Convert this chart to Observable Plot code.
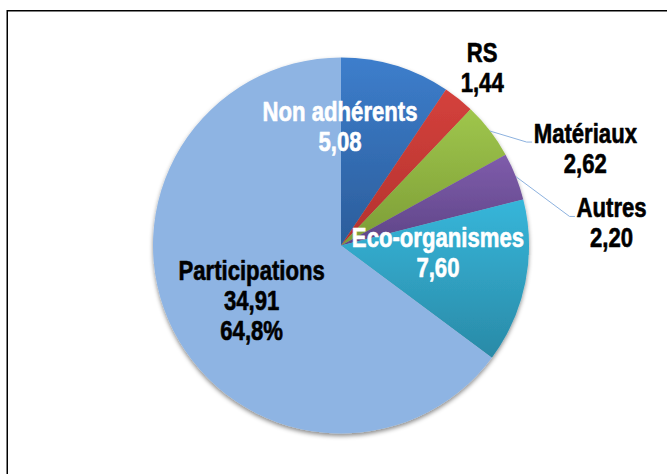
<!DOCTYPE html>
<html><head><meta charset="utf-8">
<script src="https://cdn.jsdelivr.net/npm/d3@7"></script>
<script src="https://cdn.jsdelivr.net/npm/@observablehq/plot@0.6"></script>
<style>
html,body{margin:0;padding:0;background:#fff;}
#chart{position:relative;width:667px;height:474px;overflow:hidden;}
#chart svg{display:block;}
</style></head><body><div id="chart"></div>
<script>
// ---- data ----
const categories = ["Non adhérents", "RS", "Matériaux", "Autres", "Eco-organismes", "Participations"];
const values = [5.08, 1.44, 2.62, 2.20, 7.60, 34.91];
const valueLabels = ["5,08", "1,44", "2,62", "2,20", "7,60", "34,91"];
const percentLabels = ["", "", "", "", "", "64,8%"];

// ---- styles / layout ----
const colorTop = ["#3d7ecc", "#d4413c", "#9fc64c", "#7f5cab", "#36b6da", "#8eb4e3"];
const colorBottom = ["#2b5d9b", "#b3322e", "#7c9c36", "#5e4587", "#2a8aa7", "#8eb4e3"];
const labelWhite = [true, false, false, false, true, false];
const labelRadius = [0.636, 1.21, 1.397, 1.442, 0.514, 0.56];
const labelAngle = [-0.7, 38.2, 68.2, 85.1, 93.6, 238.6];
const hasLeader = [false, false, true, true, false, false];

const W = 667, H = 474, CX = 341, CY = 245.5, R = 188;
const FONT = "'Liberation Sans', Arial, sans-serif";
const FS = 27;
const SQUEEZE = 0.82; // narrow (condensed) look

const arcs = d3.pie().sort(null).value(d => d).startAngle(0)(values);

const ctx = document.createElement("canvas").getContext("2d");
ctx.font = `bold ${FS}px ${FONT}`;

const rad = a => a * Math.PI / 180;
const labels = categories.map((c, i) => {
  const a = rad(labelAngle[i]);
  const lines = [c, valueLabels[i]];
  if (percentLabels[i]) lines.push(percentLabels[i]);
  return {
    i, text: lines.join("\n"),
    x: labelRadius[i] * Math.sin(a),
    y: labelRadius[i] * Math.cos(a),
    w: ctx.measureText(c).width * SQUEEZE,
    white: labelWhite[i]
  };
});

const leaders = [];
labels.forEach((L, i) => {
  if (!hasLeader[i]) return;
  const mid = (arcs[i].startAngle + arcs[i].endAngle) / 2;
  const ly = L.y + 6.4 / R;
  const left = L.x - (L.w / 2) / R;
  leaders.push({k: i, x: Math.sin(mid), y: Math.cos(mid)});
  leaders.push({k: i, x: left - 7 / R, y: ly});
  leaders.push({k: i, x: left - 2 / R, y: ly});
});

function pieMark(index, scales, vals, dims) {
  const g = d3.create("svg:g");
  const cx = scales.x(0), cy = scales.y(0), r = scales.x(1) - scales.x(0);
  const defs = g.append("defs");
  arcs.forEach((a, i) => {
    const gr = defs.append("linearGradient").attr("id", "grad" + i)
      .attr("x1", 0).attr("y1", 0).attr("x2", 0).attr("y2", 1);
    gr.append("stop").attr("offset", "0%").attr("stop-color", colorTop[i]);
    gr.append("stop").attr("offset", "100%").attr("stop-color", colorBottom[i]);
  });
  const f = defs.append("filter").attr("id", "pieShadow")
    .attr("x", "-10%").attr("y", "-10%").attr("width", "120%").attr("height", "125%");
  f.append("feDropShadow").attr("dx", 0).attr("dy", 2.5).attr("stdDeviation", 2.2)
    .attr("flood-color", "#000").attr("flood-opacity", 0.45);
  // frame
  g.append("path").attr("d", `M7.25,${dims.height + 5}V10.75H${dims.width + 5}`)
    .attr("fill", "none").attr("stroke", "#000").attr("stroke-width", 1.5);
  const arc = d3.arc().innerRadius(0).outerRadius(r);
  g.append("g").attr("transform", `translate(${cx},${cy})`).attr("filter", "url(#pieShadow)")
    .selectAll("path").data(arcs).join("path")
    .attr("d", arc).attr("fill", (d, i) => `url(#grad${i})`);
  return g.node();
}

const textOpts = {x: "x", y: "y", text: "text", fontSize: FS, fontWeight: "bold", fontFamily: FONT,
  lineHeight: 1.11, lineAnchor: "middle", textAnchor: "middle", strokeWidth: 0.6};

const chart = Plot.plot({
  width: W, height: H,
  marginTop: 0, marginRight: 0, marginBottom: 0, marginLeft: 0,
  x: {domain: [-CX / R, (W - CX) / R], range: [0, W], axis: null},
  y: {domain: [-(H - CY) / R, CY / R], range: [H, 0], axis: null},
  style: {background: "#fff"},
  marks: [
    pieMark,
    Plot.line(leaders, {x: "x", y: "y", z: "k", stroke: "#8db2df", strokeWidth: 1}),
    Plot.text(labels.filter(d => d.white), {...textOpts, fill: "#fff", stroke: "#fff"}),
    Plot.text(labels.filter(d => !d.white), {...textOpts, fill: "#000", stroke: "#000"})
  ]
});

// condense label glyphs horizontally around their anchor
d3.select(chart).selectAll("g[aria-label='text'] text").each(function () {
  const t = d3.select(this);
  const tr = t.attr("transform");
  if (tr) {
    t.attr("transform", tr + ` scale(${SQUEEZE},1)`);
  } else {
    const x = +t.attr("x") || 0, y = +t.attr("y") || 0;
    t.attr("x", null).attr("y", null).attr("transform", `translate(${x},${y}) scale(${SQUEEZE},1)`);
    t.selectAll("tspan").attr("x", 0);
  }
});
document.getElementById("chart").appendChild(chart);
</script>
</body></html>
